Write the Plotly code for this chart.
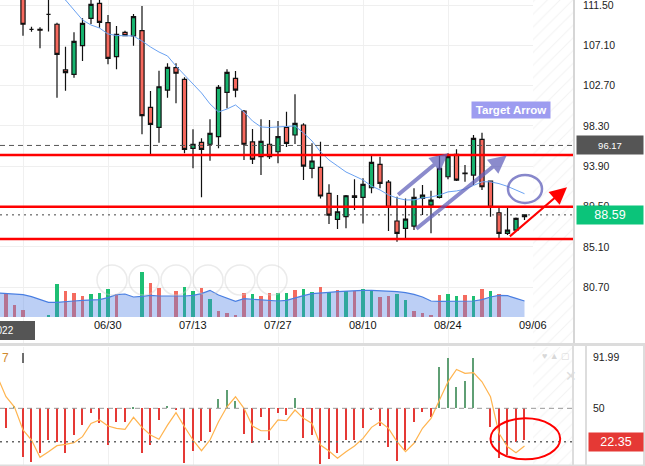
import plotly.graph_objects as go

W, H = 645, 466

# ---------------- data ----------------
bar_index = list(range(-3, 60))

open_ = [114.8, 114.0, 113.6, 112.9,
         108.85, 108.85, 110.49, 109.4, 104.41, 103.93, 107.06, 110.05, 111.69, 109.57,
         105.86, 108.52, 108.12, 108.7, 100.33, 98.15, 102.22, 104.66, 103.39, 95.86,
         96.51, 96.3, 97.13, 101.97, 103.5, 99.93, 96.55, 94.94, 96.3, 95.48,
         98.15, 97.31, 98.4, 93.67, 93.78, 90.94, 88.1, 88.4, 90.68, 90.5,
         91.55, 94.11, 92.16, 87.92, 87.12, 87.37, 90.4, 89.66, 90.5, 92.75,
         95.2, 93.15, 92.94, 96.84, 92.28, 88.82, 86.57, 86.93, 88.4]
high = [115.5, 114.6, 114.2, 113.2,
        109.13, 109.07, 112.3, 109.57, 106.95, 108.52, 110.05, 112.2, 112.2, 110.41,
        109.21, 108.7, 110.52, 111.4, 102.11, 104.33, 105.14, 105.14, 103.61, 97.93,
        96.95, 99.02, 102.77, 104.48, 104.3, 100.04, 97.97, 99.02, 98.95, 98.83,
        99.85, 101.75, 98.58, 96.4, 96.57, 91.92, 90.75, 90.75, 92.47, 92.58,
        95.02, 94.94, 92.39, 90.57, 90.39, 91.49, 91.85, 91.23, 95.02, 95.31,
        95.75, 94.03, 97.31, 97.56, 92.28, 89.55, 89.55, 88.3, 88.65]
low = [113.6, 112.9, 112.6, 108.15,
       108.59, 106.77, 108.6, 101.38, 102.15, 103.56, 105.39, 109.43, 109.03, 105.03,
       104.48, 108.1, 107.06, 97.38, 95.12, 96.47, 101.38, 100.77, 95.31, 93.68,
       90.51, 94.51, 95.86, 100.22, 101.43, 94.58, 94.15, 92.94, 94.69, 94.22,
       96.0, 96.33, 92.39, 92.58, 90.39, 87.59, 87.05, 87.12, 89.12, 87.66,
       90.94, 91.49, 86.83, 85.66, 86.03, 86.93, 88.57, 86.57, 90.39, 92.47,
       92.28, 92.2, 91.85, 91.3, 88.39, 86.03, 86.39, 86.9, 88.03]
close = [114.0, 113.3, 113.0, 109.4,
         108.85, 108.75, 110.49, 106.12, 104.11, 107.54, 109.5, 111.58, 109.61, 105.68,
         108.3, 108.15, 110.23, 99.42, 98.47, 102.58, 104.7, 104.05, 95.75, 96.3,
         95.75, 97.49, 102.52, 104.15, 102.22, 96.3, 94.66, 96.62, 94.94, 97.13,
         96.4, 98.58, 93.92, 94.47, 90.65, 88.57, 88.93, 90.68, 90.5, 91.92,
         94.33, 92.03, 89.41, 86.57, 88.13, 90.5, 90.75, 90.21, 93.67, 94.94,
         92.39, 93.1, 96.95, 91.66, 89.41, 86.57, 86.93, 88.21, 88.59]

price_ma = [None, None, None, None, None, None,
            113.7, 112.8, 112.05, 110.96, 109.87, 109.32, 108.99, 108.34,
            108.17, 108.15, 108.12, 107.57, 106.92, 106.37, 105.94, 104.84, 103.86, 102.99,
            101.9, 100.7, 99.82, 100.15, 100.59, 99.82, 98.84, 98.19, 98.13, 98.19,
            98.24, 98.3, 97.53, 96.66, 95.46, 94.58, 93.93, 93.27, 92.84, 92.4,
            91.74, 91.31, 90.76, 90.43, 90.22, 90.22, 90.43, 90.54, 90.76, 91.1,
            91.2, 91.4, 91.8, 92.2, 92.2, 92.0, 91.7, 91.3, 90.9]

volume = [82, 70, 37, 20,
          0, 0, 6, 98, 78, 72, 63, 69, 72, 83,
          68, 0, 0, 134, 102, 87, 0, 77, 89, 77,
          87, 54, 18, 12, 6, 72, 69, 63, 72, 72,
          72, 80, 84, 75, 89, 75, 80, 78, 78, 85,
          78, 60, 63, 68, 50, 18, 12, 4, 65, 70,
          62, 65, 62, 85, 78, 70, 0, 0, 0]
volume_dir = list("RRRR" "RRGGRRRGGG" "RRRGRRRRGG" "RGRRRRGRRG" "GRGGRGRGRG"
                  "GRRGGRRRRG" "GRGRGRR" "RRR")
volume_ma = [72, 71, 70, 67,
             61, 53, 44, 44, 45, 48, 50, 51, 52, 58,
             67, 69, 60, 62, 65, 63, 62, 63, 63, 65,
             70, 80, 66, 56, 47, 55, 53, 52, 50, 48,
             50, 58, 64, 70, 73, 74, 76, 78, 79, 80,
             80, 79, 78, 76, 73, 68, 60, 48, 47, 47,
             47, 47, 48, 52, 60, 65, 64, 56, 48]

osc_line = [76, 59.6, 51, 32,
            23.7, 9.3, 14, 19, 20, 21.5, 26.5, 37.5, 40.3, 35.3,
            33.4, 32.6, 42.5, 34.2, 27.8, 24.3, 36, 46.4, 34.7, 23.7,
            14.8, 23.7, 38.9, 51.3, 59.6, 50, 35.3, 31.4, 31.4, 40.3,
            39.7, 48.6, 41.7, 37.5, 19.5, 14.5, 8.5, 14, 18.7, 25,
            34.2, 38.9, 33.4, 22.3, 14, 21, 33.4, 41.7, 56.9, 72,
            82.3, 79, 79.6, 72, 59.6, 29.2, 18.1, 13.2, 18.7]
osc_hist = [45, 33.4, 52, 9.8,
            5.7, 12.7, 23.7, 22.3, 13.2, 27.8, 36.1, 46.4, 37.5, 19.5,
            38.4, 38.4, 51.5, 13.2, 19.5, 40.3, 52, 49, 4.9, 14.6,
            23.1, 30.6, 57.5, 65.2, 56, 28.4, 21, 42.5, 23.7, 45.8,
            44.4, 58.3, 25.1, 27.8, 3.8, 7.7, 12.7, 23.7, 23.7, 33.4,
            49, 35.3, 18.1, 6.5, 15.4, 38.9, 47.2, 43, 84.5, 92,
            67.9, 72.9, 92, 50, 34.2, 8.5, 11.2, 22.3, 23.7]
osc_mid = 50

date_ticks = [0, 10, 20, 30, 40, 50, 60]
date_labels = ['', '06/30', '07/13', '07/27', '08/10', '08/24', '09/06']
year_label = '2022'
price_ticks = [111.50, 107.10, 102.70, 98.30, 93.90, 89.50, 85.10, 80.70]
osc_ticks = [91.99, 50]
levels = [95.12, 89.48, 85.95]
prev_close = 96.17
last_price = 88.59
osc_last = 22.35

# drawings on the chart (bar index, price)
blue_arrows = [((43.96, 90.65), (50.0, 95.31)), ((46.1, 86.94), (56.9, 95.07))]
red_arrow = ((57.1, 86.1), (64.0, 91.6))
target_ellipse = (57.06, 61.06, 89.89, 92.95)
osc_ellipse = (55.0, 63.2, 7.7, 41.7)

# ---------------- geometry helpers ----------------
def fx(px):
    return px / W

def fy(py):
    return 1 - py / H

FONT = "Liberation Sans, Arial, sans-serif"
x_range = [-23 / 8.5, 550 / 8.5]
y_range = [74.6, 112.05]
osc_range = [2.12, 100.9]
vol_range = [-78, 951]

fig = go.Figure()

# hatched "future" region
hx0, hx1 = bar_index[-1] + 1, x_range[1]
hatch = dict(shape='/', fgcolor='#e6e6e6', bgcolor='white', size=9, solidity=0.12)
fig.add_trace(go.Scatter(x=[hx0, hx1, hx1, hx0, hx0], y=[y_range[0], y_range[0], y_range[1], y_range[1], y_range[0]],
                         fill='toself', mode='none', fillcolor='white', fillpattern=hatch,
                         hoverinfo='skip', xaxis='x', yaxis='y'))
fig.add_trace(go.Scatter(x=[hx0, hx1, hx1, hx0, hx0], y=[osc_range[0], osc_range[0], osc_range[1], osc_range[1], osc_range[0]],
                         fill='toself', mode='none', fillcolor='white', fillpattern=hatch,
                         hoverinfo='skip', xaxis='x2', yaxis='y2'))

# candles
fig.add_trace(go.Candlestick(
    x=bar_index, open=open_, high=high, low=low, close=close,
    increasing=dict(fillcolor='#17b46f', line=dict(color='#111111', width=1.2)),
    decreasing=dict(fillcolor='#f6695e', line=dict(color='#111111', width=1.2)),
    whiskerwidth=0, xaxis='x', yaxis='y'))

# price moving average
fig.add_trace(go.Scatter(x=bar_index, y=price_ma, mode='lines',
                         line=dict(color='#6aa2f2', width=1), xaxis='x', yaxis='y'))

# volume
vol_colors = ['#1dbf73' if d == 'G' else '#f46b5f' for d in volume_dir]
fig.add_trace(go.Bar(x=bar_index, y=volume, marker=dict(color=vol_colors, line=dict(width=0)),
                     width=0.45, xaxis='x', yaxis='y3'))
fig.add_trace(go.Scatter(x=bar_index, y=volume_ma, mode='lines', fill='tozeroy',
                         fillcolor='rgba(80,130,230,0.38)', line=dict(color='#4a7fe2', width=1.2),
                         xaxis='x', yaxis='y3'))

# oscillator
hist_colors = ['#5f9f74' if v > osc_mid else '#e53935' for v in osc_hist]
fig.add_trace(go.Bar(x=bar_index, y=[v - osc_mid for v in osc_hist], base=osc_mid,
                     marker=dict(color=hist_colors, line=dict(width=0)), width=0.2,
                     xaxis='x2', yaxis='y2'))
fig.add_trace(go.Scatter(x=bar_index, y=osc_line, mode='lines',
                         line=dict(color='#ffb44f', width=1.2), xaxis='x2', yaxis='y2'))

shapes = []
plot_r = fx(573)
for lv in levels:
    shapes.append(dict(type='line', xref='paper', yref='y', x0=0, x1=plot_r, y0=lv, y1=lv,
                       line=dict(color='#ff0000', width=2.5)))
shapes.append(dict(type='line', xref='paper', yref='y', x0=0, x1=plot_r, y0=prev_close, y1=prev_close,
                   line=dict(color='#555555', width=1, dash='5px,4px')))
shapes.append(dict(type='line', xref='paper', yref='y', x0=0, x1=plot_r, y0=last_price, y1=last_price,
                   line=dict(color='#444444', width=1, dash='2px,4px')))
shapes.append(dict(type='line', xref='paper', yref='y2', x0=0, x1=plot_r, y0=osc_mid, y1=osc_mid,
                   line=dict(color='#999999', width=1, dash='5px,4px')))
shapes.append(dict(type='line', xref='paper', yref='y2', x0=0, x1=plot_r, y0=osc_last, y1=osc_last,
                   line=dict(color='#666666', width=1.5, dash='2px,4px')))
ex0, ex1, ey0, ey1 = target_ellipse
shapes.append(dict(type='circle', xref='x', yref='y', x0=ex0, x1=ex1, y0=ey0, y1=ey1,
                   line=dict(color='rgba(95,95,185,0.75)', width=2.5)))
ex0, ex1, ey0, ey1 = osc_ellipse
shapes.append(dict(type='circle', xref='x2', yref='y2', x0=ex0, x1=ex1, y0=ey0, y1=ey1,
                   line=dict(color='#ff0000', width=2)))
# panel borders
shapes.append(dict(type='line', xref='paper', yref='paper', x0=0, x1=1, y0=fy(344.5), y1=fy(344.5),
                   line=dict(color='#dcdcdc', width=3)))
for px in (573, 586, 644):
    shapes.append(dict(type='line', xref='paper', yref='paper', x0=fx(px), x1=fx(px), y0=0, y1=fy(346),
                       line=dict(color='#dddddd', width=2)))
shapes.append(dict(type='line', xref='paper', yref='paper', x0=0, x1=1, y0=fy(465.5), y1=fy(465.5),
                   line=dict(color='#dddddd', width=2)))
# year box
shapes.append(dict(type='rect', xref='paper', yref='paper', x0=0, x1=fx(35), y0=fy(340), y1=fy(321),
                   fillcolor='#555555', line=dict(width=0)))
# text cursor
shapes.append(dict(type='line', xref='paper', yref='paper', x0=fx(23), x1=fx(23), y0=fy(363), y1=fy(353),
                   line=dict(color='#111', width=1.2)))
# faint navigation circles
for cx in (112, 144, 176, 208, 240, 272):
    shapes.append(dict(type='circle', xref='paper', yref='paper', x0=fx(cx - 15), x1=fx(cx + 15),
                       y0=fy(295), y1=fy(265), line=dict(color='rgba(205,205,205,0.4)', width=1.5)))

annotations = []
def note(**kw):
    kw.setdefault('showarrow', False)
    kw.setdefault('xanchor', 'center')
    kw.setdefault('yanchor', 'middle')
    annotations.append(kw)

for t, lab in zip(date_ticks, date_labels):
    if lab:
        note(x=t, xref='x', y=fy(325), yref='paper', text=lab,
             font=dict(size=11, color='#111', family=FONT))
note(x=fx(16), xref='paper', y=fy(330.5), yref='paper', text=year_label, xanchor='right',
     font=dict(size=10, color='white', family=FONT))
for (x0, y0), (x1, y1) in blue_arrows:
    annotations.append(dict(x=x1, y=y1, ax=x0, ay=y0, xref='x', yref='y', axref='x', ayref='y', text='',
                            showarrow=True, arrowhead=2, arrowsize=0.9, arrowwidth=4,
                            arrowcolor='rgba(95,95,185,0.72)'))
(x0, y0), (x1, y1) = red_arrow
annotations.append(dict(x=x1, y=y1, ax=x0, ay=y0, xref='x', yref='y', axref='x', ayref='y', text='',
                        showarrow=True, arrowhead=2, arrowsize=1.7, arrowwidth=2, arrowcolor='#ff0000'))
note(x=fx(510.7), y=fy(109.5), xref='paper', yref='paper', text='<b>Target Arrow</b>',
     bgcolor='#9d9cf0', borderpad=1, width=76, height=14,
     font=dict(size=11.5, color='white', family=FONT))
note(x=fx(609.5), y=prev_close, xref='paper', yref='y', text=f'{prev_close:.2f}',
     bgcolor='#555555', width=64, height=16,
     font=dict(size=9.5, color='white', family=FONT))
note(x=fx(609.5), y=last_price, xref='paper', yref='y', text=f'{last_price:.2f}',
     bgcolor='#0bc47a', width=64, height=16,
     font=dict(size=12.5, color='white', family=FONT))
note(x=fx(615.5), y=osc_last, xref='paper', yref='y2', text=f'{osc_last:.2f}',
     bgcolor='#e53935', width=52, height=16,
     font=dict(size=12.5, color='white', family=FONT))
note(x=0, y=fy(357.5), xref='paper', yref='paper', text='7', xanchor='left',
     font=dict(size=12, color='#d08a30', family=FONT))
note(x=fx(556), y=fy(356), xref='paper', yref='paper', text='♥ ▲ ▢',
     font=dict(size=9, color='#d8d8d8', family=FONT))
note(x=fx(571), y=fy(376), xref='paper', yref='paper', text='✕',
     font=dict(size=14, color='#dddddd', family=FONT))

fig.update_layout(
    width=W, height=H, margin=dict(l=0, r=0, t=0, b=0),
    paper_bgcolor='white', plot_bgcolor='white', showlegend=False,
    shapes=shapes, annotations=annotations, bargap=0,
    xaxis=dict(domain=[0, plot_r], range=x_range, tickvals=date_ticks, showticklabels=False,
               showgrid=True, gridcolor='#f0f0f0', zeroline=False, ticks='',
               rangeslider=dict(visible=False), anchor='y'),
    yaxis=dict(domain=[fy(343), 1], range=y_range, side='right', anchor='x',
               tickvals=price_ticks, ticktext=[f'{v:.2f}' for v in price_ticks],
               showgrid=True, gridcolor='#efefef', zeroline=False, ticks='',
               showline=True, linecolor='#d6d6d6', linewidth=2, ticklabelstandoff=6,
               ticklabeloverflow='allow',
               tickfont=dict(size=10.5, color='#222', family=FONT)),
    yaxis3=dict(overlaying='y', range=vol_range, visible=False, anchor='x'),
    xaxis2=dict(domain=[0, plot_r], matches='x', anchor='y2', tickvals=date_ticks, showticklabels=False,
                showgrid=True, gridcolor='#f0f0f0', zeroline=False, ticks=''),
    yaxis2=dict(domain=[0, fy(347)], range=osc_range, side='right', anchor='free', position=fx(586),
                tickvals=osc_ticks, ticktext=['91.99', '50'], showgrid=False, zeroline=False, ticks='',
                ticklabelstandoff=6, ticklabeloverflow='allow',
                tickfont=dict(size=10.5, color='#222', family=FONT)),
)

fig.write_html("out.html")
